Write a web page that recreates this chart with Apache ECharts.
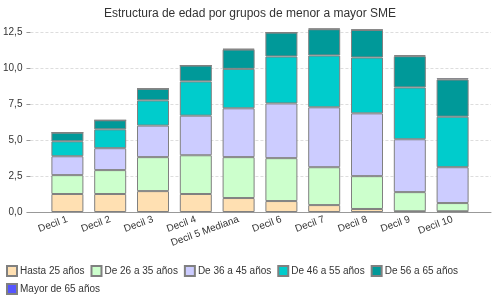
<!DOCTYPE html>
<html><head><meta charset="utf-8">
<script src="https://cdn.jsdelivr.net/npm/echarts@6/dist/echarts.min.js"></script>
<style>html,body{margin:0;padding:0;background:#fff}#c{width:500px;height:300px}</style>
</head><body><div id="c"></div>
<script>
const categories = ["Decil 1","Decil 2","Decil 3","Decil 4","Decil 5 Mediana","Decil 6","Decil 7","Decil 8","Decil 9","Decil 10"];
const seriesNames = ["Hasta 25 años","De 26 a 35 años","De 36 a 45 años","De 46 a 55 años","De 56 a 65 años","Mayor de 65 años"];
const hasta25 = [1.25,1.25,1.45,1.25,0.97,0.76,0.48,0.21,0.05,0.05];
const de26a35 = [1.31,1.66,2.36,2.69,2.84,2.98,2.63,2.28,1.33,0.57];
const de36a45 = [1.31,1.52,2.19,2.75,3.39,3.80,4.16,4.36,3.67,2.49];
const de46a55 = [1.04,1.31,1.75,2.38,2.74,3.26,3.60,3.88,3.60,3.51];
const de56a65 = [0.60,0.63,0.81,1.10,1.34,1.66,1.82,1.91,2.17,2.58];
const mayor65 = [0.00,0.00,0.00,0.00,0.05,0.00,0.05,0.03,0.07,0.09];
const yTicks = [0,2.5,5,7.5,10,12.5];
const colors = ["#FFE0B2","#CCFFCC","#CCCCFF","#00CCCC","#009999","#5555FF"];
const values = [hasta25,de26a35,de36a45,de46a55,de56a65,mayor65];

const font = "'Liberation Sans', Arial, sans-serif";
const chart = echarts.init(document.getElementById('c'), null, {renderer:'canvas'});
chart.setOption({
  animation:false,
  title:{text:"Estructura de edad por grupos de menor a mayor SME", left:'center', top:3,
    textStyle:{fontFamily:font, fontSize:12, fontWeight:'normal', color:'#333'}},
  legend:{data:seriesNames, left:1, right:5, top:260, icon:'rect', itemWidth:10, itemHeight:10,
    itemGap:6, textStyle:{fontFamily:font, fontSize:10, color:'#333', padding:[0,0,0,-2]}},
  grid:[
    {left:30, right:9, top:32, bottom:88},
    {left:46, right:26, top:32, bottom:88}
  ],
  xAxis:[
    {type:'category', gridIndex:0, data:[''], axisLabel:{show:false}, axisTick:{show:false},
     axisLine:{lineStyle:{color:'#999'}}},
    {type:'category', gridIndex:1, data:categories, axisLine:{show:false}, axisTick:{show:false},
     axisLabel:{rotate:20, interval:0, margin:7, fontFamily:font, fontSize:10, color:'#333'}}
  ],
  yAxis:[
    {type:'value', gridIndex:0, min:yTicks[0], max:yTicks[yTicks.length-1], interval:2.5,
     axisLine:{show:false}, axisTick:{show:true, length:4, lineStyle:{color:'#999'}},
     axisLabel:{margin:8, fontFamily:font, fontSize:10, color:'#333',
       formatter:v=>v.toFixed(1).replace('.',',')},
     splitLine:{lineStyle:{color:'#ddd', type:[3,2]}}},
    {type:'value', gridIndex:1, min:yTicks[0], max:yTicks[yTicks.length-1], interval:2.5, show:false, splitLine:{show:false}}
  ],
  series: seriesNames.map((n,i)=>({
    name:n, type:'bar', stack:'s', xAxisIndex:1, yAxisIndex:1, barWidth:32, clip:false,
    data:values[i], itemStyle:{color:colors[i], borderColor:'#808080', borderWidth:1}
  }))
});
</script></body></html>
